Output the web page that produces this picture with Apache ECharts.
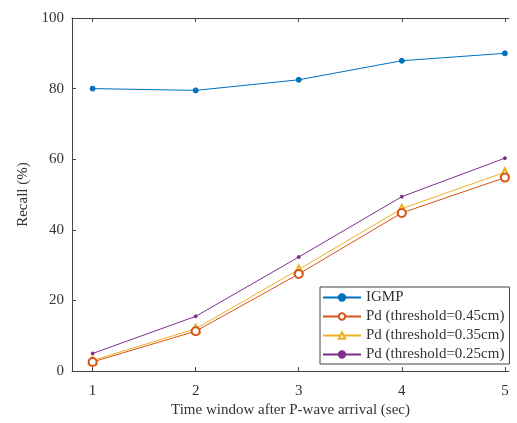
<!DOCTYPE html>
<html><head><meta charset="utf-8">
<script src="https://cdn.jsdelivr.net/npm/echarts@6/dist/echarts.min.js"></script>
<style>html,body{margin:0;padding:0;background:#fff}#c{width:517px;height:423px}</style>
</head><body><div id="c"></div>
<script>
const xValues = [1, 2, 3, 4, 5];
const xTicks = [1, 2, 3, 4, 5];
const yTicks = [0, 20, 40, 60, 80, 100];
const seriesNames = ['IGMP', 'Pd (threshold=0.45cm)', 'Pd (threshold=0.35cm)', 'Pd (threshold=0.25cm)'];
const igmp = [80.0, 79.5, 82.5, 87.9, 90.0];
const pd045 = [2.6, 11.3, 27.5, 44.8, 54.8];
const pd035 = [3.0, 12.0, 28.8, 46.0, 56.3];
const pd025 = [5.0, 15.5, 32.3, 49.4, 60.3];

const colors = ['#0072BD', '#D95319', '#EDB120', '#7E2F8E'];
const symbols = ['circle', 'emptyCircle', 'emptyTriangle', 'circle'];
const sizes = [5, 8, 8, 3];
const font = 'Liberation Serif';
const allData = [igmp, pd045, pd035, pd025];

const chart = echarts.init(document.getElementById('c'));
chart.setOption({
  animation: false,
  backgroundColor: '#fff',
  grid: { left: 72, top: 18, right: 8, bottom: 51, containLabel: false },
  legend: {
    orient: 'vertical', left: 320, top: 287,
    backgroundColor: '#fff', borderColor: '#444', borderWidth: 1,
    padding: [3, 5, 2, 2], itemGap: 4, itemWidth: 38, itemHeight: 8,
    textStyle: { fontFamily: font, fontSize: 15, color: '#333' },
    data: seriesNames
  },
  xAxis: [{
    type: 'value', min: 0.8, max: 5.04,
    name: 'Time window after P-wave arrival (sec)', nameLocation: 'middle', nameGap: 30,
    nameTextStyle: { fontFamily: font, fontSize: 15, color: '#333' },
    axisLine: { onZero: false, lineStyle: { color: '#444', width: 1 } },
    axisTick: { inside: true, length: 4, customValues: xTicks, lineStyle: { color: '#444' } },
    axisLabel: { customValues: xTicks, fontFamily: font, fontSize: 15, color: '#333', margin: 12 },
    splitLine: { show: false }
  }, {
    type: 'value', min: 0.8, max: 5.04, position: 'top',
    axisLine: { onZero: false, lineStyle: { color: '#444', width: 1 } },
    axisTick: { inside: true, length: 4, customValues: xTicks, lineStyle: { color: '#444' } },
    axisLabel: { show: false }, splitLine: { show: false }
  }],
  yAxis: {
    type: 'value', min: 0, max: 100, interval: 20,
    name: 'Recall (%)', nameLocation: 'middle', nameGap: 40,
    nameTextStyle: { fontFamily: font, fontSize: 15, color: '#333' },
    axisLine: { show: true, lineStyle: { color: '#444', width: 1 } },
    axisTick: { show: true, inside: true, length: 4, lineStyle: { color: '#444' } },
    axisLabel: { fontFamily: font, fontSize: 15, color: '#333', margin: 8,
      formatter: v => yTicks.includes(v) ? String(v) : '' },
    splitLine: { show: false }
  },
  series: seriesNames.map((n, i) => ({
    name: n, type: 'line', xAxisIndex: 0,
    data: xValues.map((x, j) => [x, allData[i][j]]),
    symbol: symbols[i], symbolSize: sizes[i],
    lineStyle: { color: colors[i], width: 1 },
    itemStyle: { color: colors[i], borderColor: colors[i], borderWidth: 1 },
    z: 10 - i
  }))
});
</script></body></html>
